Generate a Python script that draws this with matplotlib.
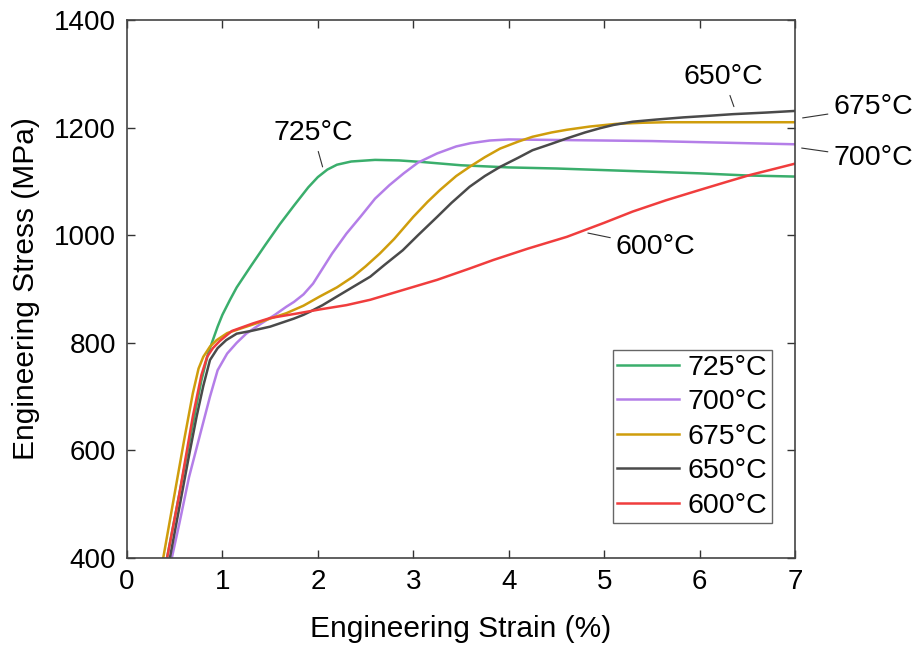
import matplotlib
matplotlib.use("Agg")
import matplotlib.pyplot as plt

plt.rcParams['font.family'] = ['Liberation Sans', 'DejaVu Sans']

# curves: strain (%) / stress (MPa)
strain_725 = [0.42, 0.55, 0.68, 0.78, 0.85, 0.90, 0.95, 1.00, 1.08, 1.15, 1.30, 1.45, 1.60, 1.75,
              1.90, 2.00, 2.10, 2.20, 2.35, 2.60, 2.85, 3.10, 3.50, 4.00, 4.50, 5.00, 5.50, 6.00,
              6.50, 7.00]
stress_725 = [400, 520, 640, 730, 780, 805, 830, 852, 880, 903, 943, 982, 1020, 1055,
              1089, 1108, 1122, 1131, 1137, 1140, 1139, 1136, 1130, 1126, 1124, 1121, 1118, 1115,
              1111, 1109]

strain_700 = [0.47, 0.55, 0.65, 0.77, 0.87, 0.95, 1.05, 1.15, 1.25, 1.40, 1.55, 1.67, 1.75, 1.85,
              1.95, 2.05, 2.15, 2.30, 2.45, 2.60, 2.75, 2.90, 3.05, 3.25, 3.45, 3.60, 3.80, 4.00,
              4.50, 5.00, 5.50, 6.00, 6.50, 7.00]
stress_700 = [400, 465, 550, 632, 700, 749, 780, 800, 817, 835, 852, 867, 876, 890,
              910, 938, 966, 1003, 1035, 1068, 1093, 1115, 1135, 1152, 1165, 1171, 1176, 1178,
              1177, 1176, 1175, 1173, 1171, 1169]

strain_675 = [0.38, 0.50, 0.60, 0.69, 0.75, 0.80, 0.87, 0.94, 1.05, 1.20, 1.32, 1.50, 1.67, 1.85,
              2.02, 2.20, 2.37, 2.50, 2.65, 2.80, 3.00, 3.15, 3.28, 3.45, 3.59, 3.75, 3.91, 4.10,
              4.25, 4.45, 4.61, 4.85, 5.13, 5.40, 5.66, 6.00, 6.50, 7.00]
stress_675 = [400, 520, 620, 706, 752, 774, 793, 805, 818, 827, 834, 845, 855, 869,
              886, 903, 923, 942, 966, 993, 1034, 1062, 1084, 1110, 1127, 1145, 1161, 1174,
              1183, 1191, 1196, 1202, 1207, 1209, 1210, 1210, 1210, 1210]

strain_650 = [0.45, 0.55, 0.65, 0.73, 0.80, 0.87, 0.95, 1.04, 1.15, 1.30, 1.50, 1.60, 1.75, 1.85,
              1.92, 2.05, 2.20, 2.37, 2.55, 2.70, 2.89, 3.05, 3.25, 3.40, 3.59, 3.75, 3.91, 4.10,
              4.25, 4.45, 4.61, 4.80, 4.96, 5.10, 5.30, 5.55, 5.83, 6.10, 6.35, 6.70, 7.00]
stress_650 = [400, 495, 590, 663, 720, 768, 790, 805, 817, 822, 830, 836, 845, 852,
              858, 870, 886, 904, 923, 945, 972, 1000, 1034, 1060, 1090, 1110, 1127, 1144,
              1158, 1170, 1180, 1191, 1199, 1205, 1211, 1215, 1219, 1222, 1225, 1228, 1231]

strain_600 = [0.42, 0.55, 0.69, 0.78, 0.84, 0.90, 0.97, 1.10, 1.32, 1.50, 1.80, 2.02, 2.30, 2.55,
              2.89, 3.25, 3.59, 3.84, 4.20, 4.61, 5.00, 5.30, 5.65, 6.00, 6.30, 6.53, 6.80, 7.00]
stress_600 = [400, 520, 663, 740, 774, 790, 803, 822, 836, 846, 855, 862, 870, 880,
              898, 917, 938, 954, 975, 997, 1023, 1044, 1065, 1084, 1100, 1112, 1124, 1133]

labels = ['725°C', '700°C', '675°C', '650°C', '600°C']
colors = ['#3aae6c', '#b47ee8', '#cf9d0c', '#4a4a4a', '#f03d3d']

# annotation text positions and leader targets (strain, stress)
note_text = [(1.95, 1190), (7.82, 1143), (7.82, 1238), (6.25, 1294), (5.54, 978)]
note_point = [(2.05, 1127), (7.07, 1162), (7.08, 1218), (6.36, 1239), (4.83, 1004)]

fig = plt.figure(figsize=(9.18, 6.52), dpi=100)
ax = fig.add_axes([0.1383, 0.1442, 0.7277, 0.8251])

curves = [(strain_725, stress_725), (strain_700, stress_700), (strain_675, stress_675),
          (strain_650, stress_650), (strain_600, stress_600)]
for (x, y), lab, c in zip(curves, labels, colors):
    ax.plot(x, y, color=c, lw=1.8, label=lab)

for lab, (tx, ty), (px, py) in zip(labels, note_text, note_point):
    ax.annotate(lab, xy=(px, py), xytext=(tx, ty), ha='center', va='center',
                fontsize=20.5, annotation_clip=False,
                arrowprops=dict(arrowstyle='-', lw=0.8, color='#333333',
                                shrinkA=2, shrinkB=0))

ax.set_xlim(0, 7)
ax.set_ylim(400, 1400)
ax.set_xticks(range(0, 8))
ax.set_yticks(range(400, 1401, 200))
ax.tick_params(direction='in', length=6, width=1, top=True, right=True,
               labelsize=20, colors='#333333', labelcolor='black', pad=8)
for s in ax.spines.values():
    s.set_color('#444444')
    s.set_linewidth(1.2)

ax.set_xlabel('Engineering Strain (%)', fontsize=21.5, labelpad=14)
ax.set_ylabel('Engineering Stress (MPa)', fontsize=21.5, labelpad=10)

leg = ax.legend(loc='lower right', bbox_to_anchor=(0.9656, 0.065), borderaxespad=0,
                fontsize=20.5, fancybox=False, edgecolor='#666666', framealpha=1,
                handlelength=2.2, labelspacing=0.3, borderpad=0.15, handletextpad=0.3)
leg.get_frame().set_linewidth(1.0)

fig.savefig('out.png', dpi=100)
